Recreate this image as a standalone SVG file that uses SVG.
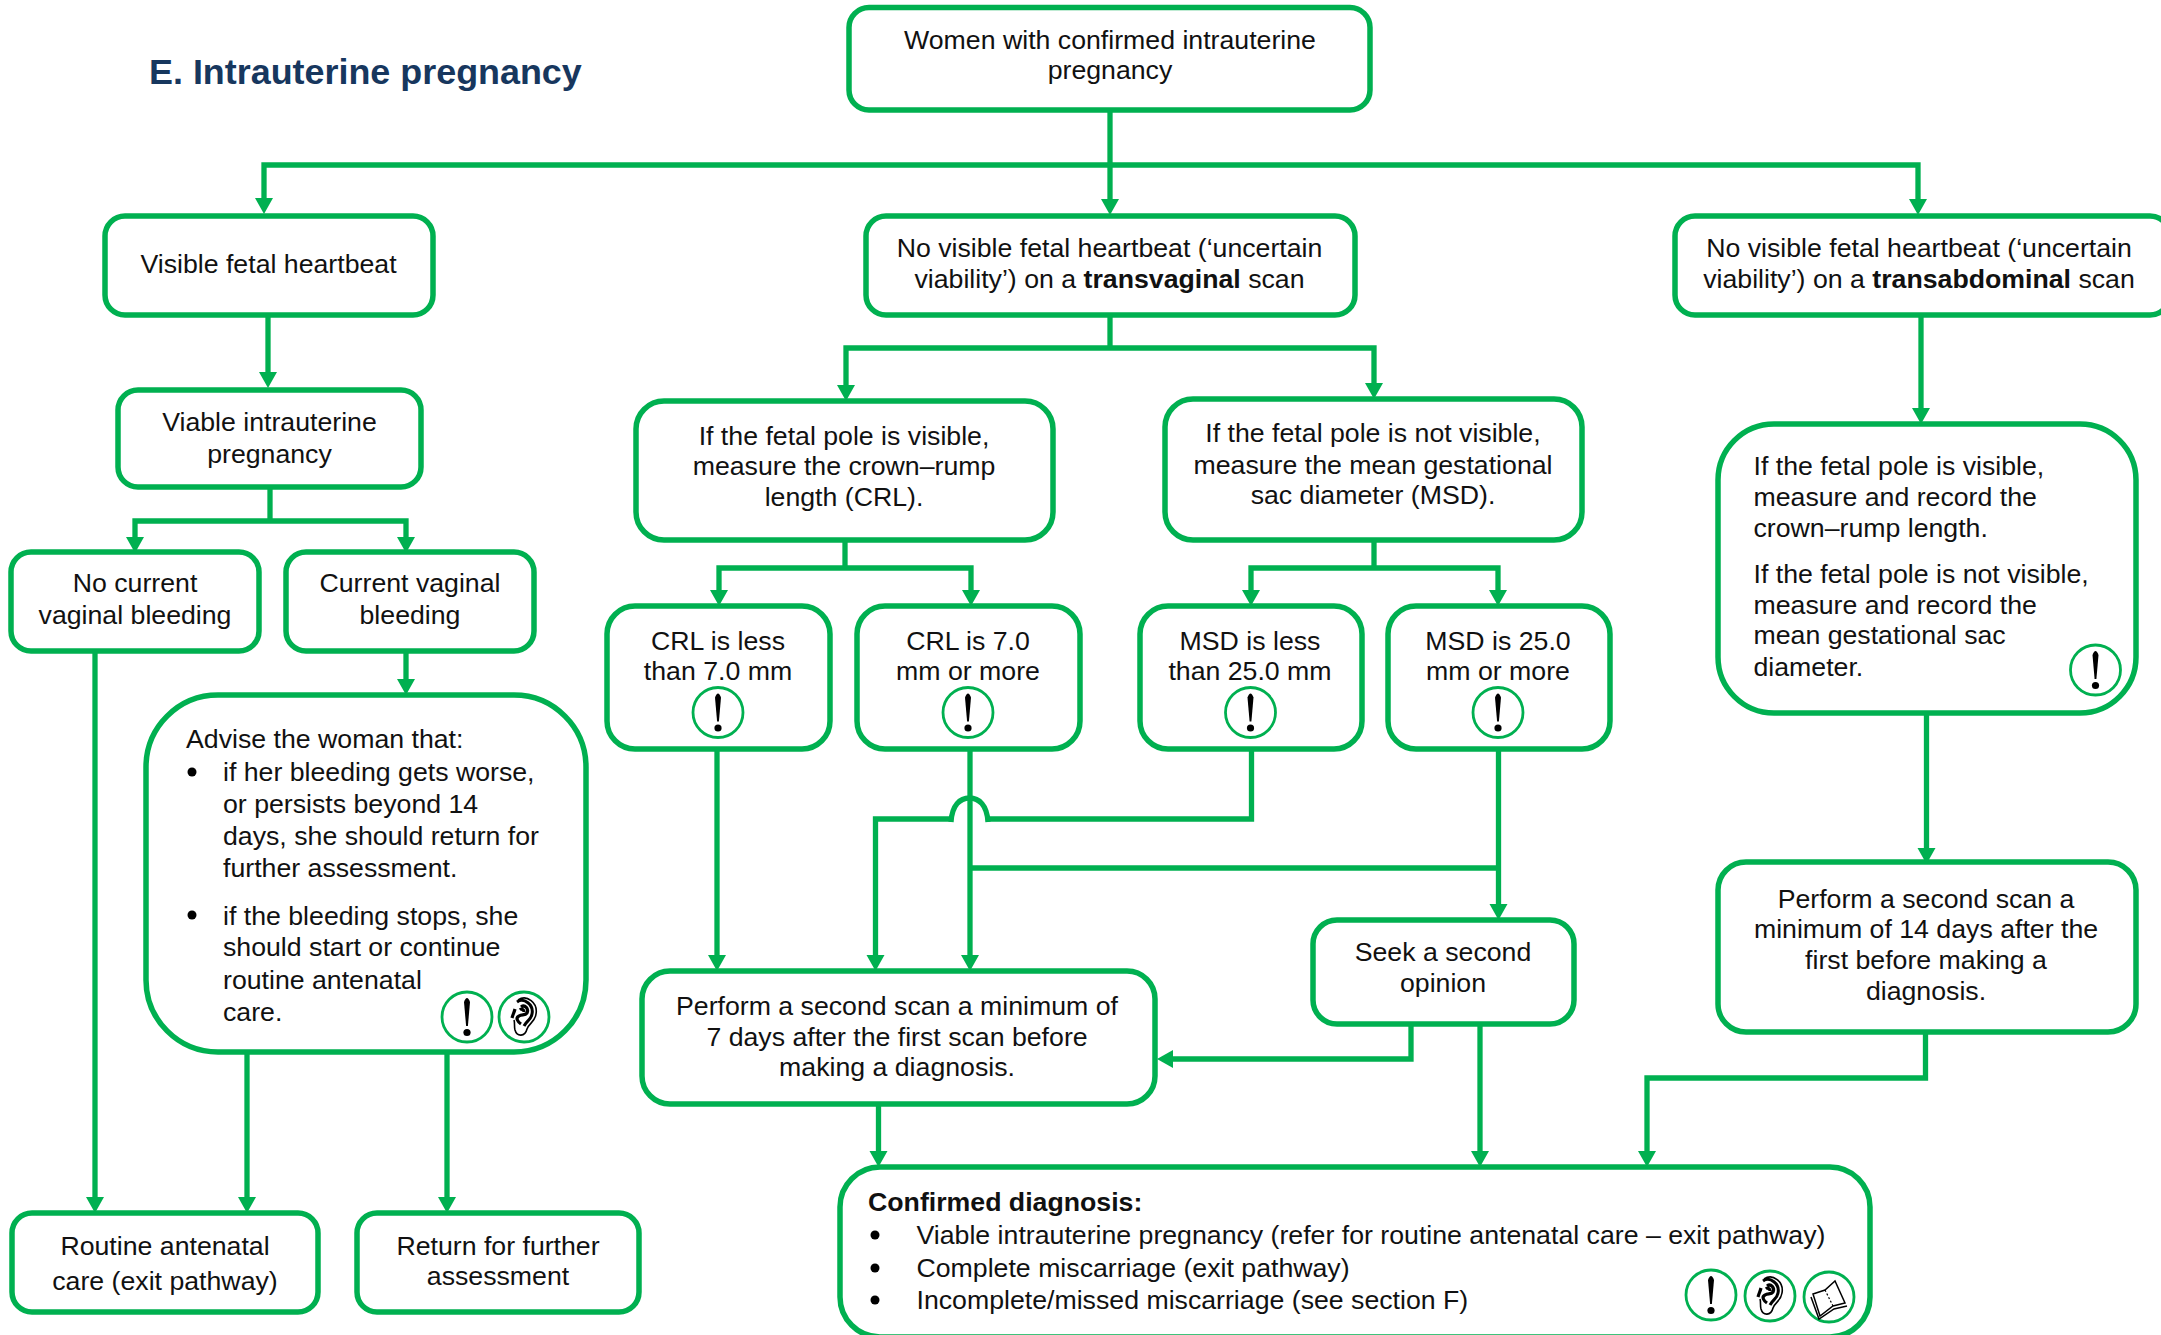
<svg xmlns="http://www.w3.org/2000/svg" width="2161" height="1335" viewBox="0 0 2161 1335">
<style>
text{font-family:"Liberation Sans",Arial,sans-serif;font-size:26.7px;fill:#111}
.c{text-anchor:middle}
.b{font-weight:bold}
.box{fill:#fff;stroke:#00b050;stroke-width:5.5}
.ic{fill:#fff;stroke:#00b050;stroke-width:2.8}
.ln{fill:none;stroke:#00b050;stroke-width:5.3}
.ar{marker-end:url(#arr)}
.title{font-size:35.9px;font-weight:bold;fill:#17375e}
</style>
<defs>
<marker id="arr" markerUnits="userSpaceOnUse" markerWidth="17" markerHeight="19" refX="6" refY="9.5" orient="auto"><path d="M0,0.5 L16,9.5 L0,18.5 Z" fill="#00b050"/></marker>
<g id="excl"><circle class="ic" r="25"/><path d="M-3,-15 Q0,-23 3,-15 L0.9,9 L-0.9,9 Z" fill="#000"/><circle cy="15.5" r="3.6" fill="#000"/></g>
<g id="ear"><circle class="ic" r="25"/><path d="M-6,-17 C3,-23 14,-14 12,-3 C11,5 5,6 3,12 C1,20 -7,20 -9,13 C-10,9 -9,6 -10,3" fill="none" stroke="#000" stroke-width="1.6"/><path d="M-7,-15 C0,-20 10,-12 8,-3 C7,3 3,3 0,9" fill="none" stroke="#000" stroke-width="3"/><path d="M-3,-10 C1,-13 5,-8 3,-4 C1,-1 -2,-3 -5,-1 C-9,1 -6,5 -3,7 M-9,-8 C-10,-4 -11,-3 -12,1 M-4,-7 C-2,-9 0,-7 0,-5" fill="none" stroke="#000" stroke-width="3.2"/></g>
<g id="book"><circle class="ic" r="25"/><path d="M-16,-3 L-4,-7 L6,-16 L16,6 L4,9 L-9,19 Z" fill="#fff" stroke="#000" stroke-width="1.5"/><path d="M-4,-7 L4,9" fill="none" stroke="#000" stroke-width="1.2" stroke-dasharray="2 2"/><path d="M-18,0 L-10,22 L5,12 L18,9" fill="none" stroke="#000" stroke-width="1.5"/></g>
</defs>
<rect width="2161" height="1335" fill="#fff"/>
<text class="title" x="149" y="84">E. Intrauterine pregnancy</text>

<g id="n-women"><rect class="box" x="849" y="7.5" width="521" height="102.5" rx="20"/><text class="c" x="1110" y="49">Women with confirmed intrauterine</text><text class="c" x="1110" y="79">pregnancy</text></g>
<g id="n-visible"><rect class="box" x="105" y="216" width="328" height="99" rx="20"/><text class="c" x="268.5" y="273">Visible fetal heartbeat</text></g>
<g id="n-tv"><rect class="box" x="866" y="216" width="489" height="99" rx="20"/><text class="c" x="1109.5" y="257">No visible fetal heartbeat (‘uncertain</text><text class="c" x="1109.5" y="288">viability’) on a <tspan class="b">transvaginal</tspan> scan</text></g>
<g id="n-ta"><rect class="box" x="1675" y="216" width="495" height="99" rx="20"/><text class="c" x="1919" y="257">No visible fetal heartbeat (‘uncertain</text><text class="c" x="1919" y="288">viability’) on a <tspan class="b">transabdominal</tspan> scan</text></g>
<g id="n-viable"><rect class="box" x="118" y="390" width="303" height="97" rx="20"/><text class="c" x="269.5" y="431">Viable intrauterine</text><text class="c" x="269.5" y="463">pregnancy</text></g>
<g id="n-nobleed"><rect class="box" x="11" y="552" width="248" height="99" rx="20"/><text class="c" x="135" y="592">No current</text><text class="c" x="135" y="624">vaginal bleeding</text></g>
<g id="n-bleed"><rect class="box" x="286" y="552" width="248" height="99" rx="20"/><text class="c" x="410" y="592">Current vaginal</text><text class="c" x="410" y="624">bleeding</text></g>
<g id="n-advise"><rect class="box" x="146" y="695" width="440" height="357" rx="72"/>
<text x="186" y="748">Advise the woman that:</text>
<circle cx="192" cy="772" r="4.5" fill="#000"/>
<text x="223" y="781">if her bleeding gets worse,</text><text x="223" y="813">or persists beyond 14</text><text x="223" y="845">days, she should return for</text><text x="223" y="877">further assessment.</text>
<circle cx="192" cy="915" r="4.5" fill="#000"/>
<text x="223" y="925">if the bleeding stops, she</text><text x="223" y="956">should start or continue</text><text x="223" y="989">routine antenatal</text><text x="223" y="1021">care.</text>
<use href="#excl" x="467" y="1017"/><use href="#ear" x="524" y="1017"/></g>
<g id="n-routine"><rect class="box" x="12" y="1213" width="306" height="99" rx="20"/><text class="c" x="165" y="1255">Routine antenatal</text><text class="c" x="165" y="1290">care (exit pathway)</text></g>
<g id="n-return"><rect class="box" x="357" y="1213" width="282" height="99" rx="20"/><text class="c" x="498" y="1255">Return for further</text><text class="c" x="498" y="1285">assessment</text></g>
<g id="n-ifvis"><rect class="box" x="636" y="401" width="417" height="139" rx="28"/><text class="c" x="844" y="445">If the fetal pole is visible,</text><text class="c" x="844" y="475">measure the crown–rump</text><text class="c" x="844" y="506">length (CRL).</text></g>
<g id="n-ifnot"><rect class="box" x="1165" y="399" width="417" height="141" rx="28"/><text class="c" x="1373" y="442">If the fetal pole is not visible,</text><text class="c" x="1373" y="474">measure the mean gestational</text><text class="c" x="1373" y="504">sac diameter (MSD).</text></g>
<g id="n-crl1"><rect class="box" x="607" y="606" width="223" height="143" rx="28"/><text class="c" x="718" y="650">CRL is less</text><text class="c" x="718" y="680">than 7.0 mm</text><use href="#excl" x="718" y="712.5"/></g>
<g id="n-crl2"><rect class="box" x="857" y="606" width="223" height="143" rx="28"/><text class="c" x="968" y="650">CRL is 7.0</text><text class="c" x="968" y="680">mm or more</text><use href="#excl" x="968" y="712.5"/></g>
<g id="n-msd1"><rect class="box" x="1140" y="606" width="222" height="143" rx="28"/><text class="c" x="1250" y="650">MSD is less</text><text class="c" x="1250" y="680">than 25.0 mm</text><use href="#excl" x="1250.5" y="712.5"/></g>
<g id="n-msd2"><rect class="box" x="1388" y="606" width="222" height="143" rx="28"/><text class="c" x="1498" y="650">MSD is 25.0</text><text class="c" x="1498" y="680">mm or more</text><use href="#excl" x="1498" y="712.5"/></g>
<g id="n-right"><rect class="box" x="1718" y="424" width="418" height="289" rx="56"/>
<text x="1753.5" y="475">If the fetal pole is visible,</text><text x="1753.5" y="506">measure and record the</text><text x="1753.5" y="537">crown–rump length.</text>
<text x="1753.5" y="583">If the fetal pole is not visible,</text><text x="1753.5" y="614">measure and record the</text><text x="1753.5" y="644">mean gestational sac</text><text x="1753.5" y="676">diameter.</text>
<use href="#excl" x="2095.5" y="670"/></g>
<g id="n-p14"><rect class="box" x="1718" y="862" width="418" height="170" rx="28"/><text class="c" x="1926" y="908">Perform a second scan a</text><text class="c" x="1926" y="938">minimum of 14 days after the</text><text class="c" x="1926" y="969">first before making a</text><text class="c" x="1926" y="1000">diagnosis.</text></g>
<g id="n-p7"><rect class="box" x="642" y="971" width="513" height="133" rx="28"/><text class="c" x="897" y="1015">Perform a second scan a minimum of</text><text class="c" x="897" y="1046">7 days after the first scan before</text><text class="c" x="897" y="1076">making a diagnosis.</text></g>
<g id="n-seek"><rect class="box" x="1313" y="920" width="261" height="104" rx="24"/><text class="c" x="1443" y="961">Seek a second</text><text class="c" x="1443" y="992">opinion</text></g>
<g id="n-conf"><rect class="box" x="840" y="1167" width="1030" height="170" rx="40"/>
<text class="b" x="868" y="1211">Confirmed diagnosis:</text>
<circle cx="875" cy="1235" r="4.5" fill="#000"/><text x="916.5" y="1244">Viable intrauterine pregnancy (refer for routine antenatal care – exit pathway)</text>
<circle cx="875" cy="1268" r="4.5" fill="#000"/><text x="916.5" y="1277">Complete miscarriage (exit pathway)</text>
<circle cx="875" cy="1300" r="4.5" fill="#000"/><text x="916.5" y="1309">Incomplete/missed miscarriage (see section F)</text>
<use href="#excl" x="1711" y="1295"/><use href="#ear" x="1770" y="1296"/><use href="#book" x="1829" y="1297"/></g>

<g id="connectors">
<path class="ln" d="M1110,110 V165"/>
<path class="ln ar" d="M1110,165 H264 V204"/>
<path class="ln ar" d="M1110,165 V205"/>
<path class="ln ar" d="M1110,165 H1918 V205"/>
<path class="ln ar" d="M268,317 V378"/>
<path class="ln" d="M270,488 V521"/>
<path class="ln ar" d="M270,521 H135 V543"/>
<path class="ln ar" d="M270,521 H406 V543"/>
<path class="ln ar" d="M406,653 V685"/>
<path class="ln ar" d="M95,653 V1203"/>
<path class="ln ar" d="M247,1054 V1203"/>
<path class="ln ar" d="M447,1054 V1203"/>
<path class="ln" d="M1110,316 V348"/>
<path class="ln ar" d="M1110,348 H846 V391"/>
<path class="ln ar" d="M1110,348 H1374 V389"/>
<path class="ln" d="M845,541 V568"/>
<path class="ln ar" d="M845,568 H719 V596"/>
<path class="ln ar" d="M845,568 H971 V596"/>
<path class="ln" d="M1374,541 V568"/>
<path class="ln ar" d="M1374,568 H1251 V596"/>
<path class="ln ar" d="M1374,568 H1498 V596"/>
<path class="ln ar" d="M717,751 V961"/>
<path class="ln ar" d="M970,751 V961"/>
<path class="ln" d="M1251.5,751 V819 H988"/>
<path class="ln" d="M988,822 C987,805 979,798 969.5,798 C960,798 952,805 951,822"/>
<path class="ln ar" d="M951,819 H875.5 V961"/>
<path class="ln ar" d="M1498.5,751 V910"/>
<path class="ln" d="M970,868 H1498.5"/>
<path class="ln ar" d="M1411,1026 V1059 H1167"/>
<path class="ln ar" d="M1480,1026 V1157"/>
<path class="ln ar" d="M878.5,1106 V1157"/>
<path class="ln ar" d="M1921,317 V414"/>
<path class="ln ar" d="M1926.5,715 V854"/>
<path class="ln ar" d="M1925.5,1034 V1078 H1647 V1157"/>
</g>
</svg>
